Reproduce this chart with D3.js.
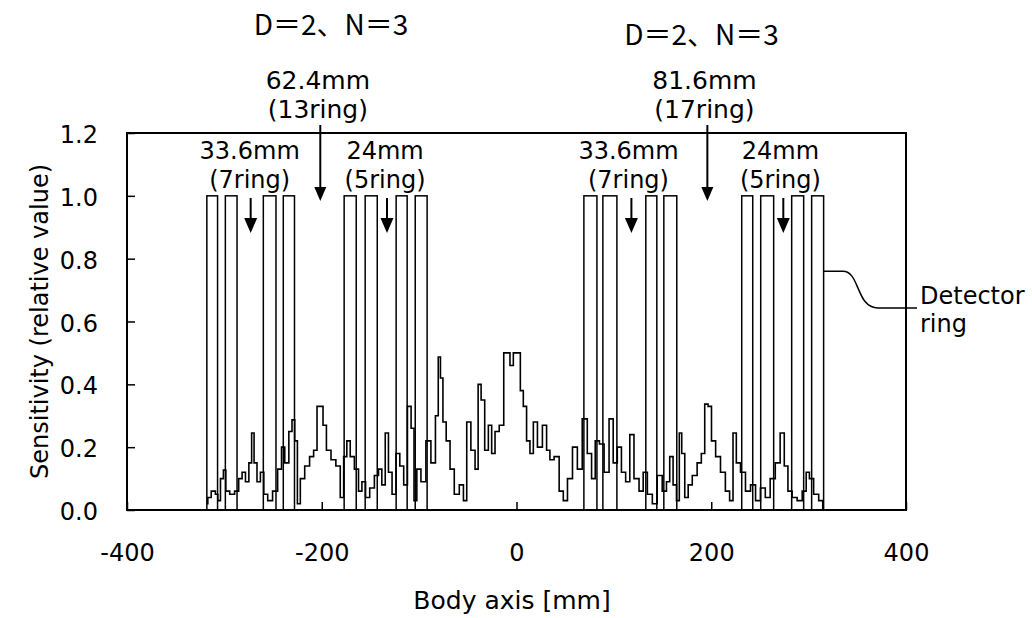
<!DOCTYPE html>
<html>
<head>
<meta charset="utf-8">
<script src="https://cdn.jsdelivr.net/npm/d3@7"></script>
<style>
body { margin: 0; background: #fff; }
svg { display: block; font-family: "DejaVu Sans", sans-serif; }
</style>
</head>
<body>
<div id="chart"></div>
<script>
// sensitivity profile (body axis position in mm, relative value)
const bodyAxisMm = [
  -318, -316, -311, -307.5, -306, -302, -300, -297, -292, -287,
  -283.6, -280, -276.7, -273, -271, -268, -265, -261, -258, -253,
  -248, -242.6, -240, -236, -231.6, -229.5, -226, -224, -220, -215,
  -210, -206.7, -203, -200, -197.4, -193, -188, -183, -179, -176,
  -172.5, -169, -164, -160.5, -157, -153, -148.5, -143.4, -140, -136.6,
  -133, -130, -125.6, -122, -117.7, -114, -110, -106.5, -104, -100.7,
  -95.6, -90.5, -85.3, -81.2, -79.5, -76.7, -74.4, -70, -66.5, -61.3,
  -56.2, -52.8, -49.4, -44.3, -40.8, -38, -34.7, -30.6, -27.2, -23.8,
  -20.3, -15.2, -11, -8.4, -5, -1.5, 2.6, 5.3, 8.7, 12,
  15.6, 19, 24, 29.2, 32.6, 36, 41.2, 46.4, 49.7, 55,
  60, 65, 70, 75.4, 78.8, 82.9, 87.4, 92.5, 97.6, 101,
  106, 109.5, 114.7, 118, 123.3, 128.4, 131.8, 137, 142, 147,
  152.3, 155.7, 159, 162.6, 166, 168.4, 171, 174.6, 178, 183,
  188, 191.6, 195, 198.5, 202, 207, 212, 217, 220.7, 224,
  227.5, 232.6, 237.7, 243, 248, 253, 258, 263, 268.5, 273,
  277, 280.5, 285.6, 290.8, 296, 299, 302.6, 307.7, 313, 316
];
const sensitivity = [
  0.02, 0.04, 0.06, 0.05, 0.03, 0.10, 0.127, 0.06, 0.05, 0.06,
  0.10, 0.12, 0.09, 0.15, 0.245, 0.15, 0.09, 0.12, 0.05, 0.03,
  0.06, 0.13, 0.20, 0.15, 0.25, 0.287, 0.22, 0.02, 0.10, 0.14,
  0.17, 0.19, 0.33, 0.33, 0.27, 0.19, 0.16, 0.14, 0.04, 0.17,
  0.22, 0.17, 0.13, 0.06, 0.09, 0.04, 0.07, 0.11, 0.13, 0.08,
  0.245, 0.12, 0.05, 0.18, 0.14, 0.08, 0.33, 0.26, 0.03, 0.13,
  0.09, 0.22, 0.15, 0.30, 0.487, 0.42, 0.28, 0.22, 0.13, 0.05,
  0.08, 0.03, 0.28, 0.19, 0.13, 0.40, 0.35, 0.19, 0.27, 0.18,
  0.25, 0.27, 0.50, 0.50, 0.46, 0.50, 0.50, 0.38, 0.33, 0.22,
  0.18, 0.28, 0.20, 0.27, 0.19, 0.16, 0.17, 0.06, 0.03, 0.10,
  0.20, 0.13, 0.29, 0.18, 0.10, 0.22, 0.21, 0.12, 0.29, 0.15,
  0.20, 0.12, 0.09, 0.24, 0.10, 0.06, 0.12, 0.05, 0.02, 0.11,
  0.06, 0.09, 0.17, 0.08, 0.03, 0.245, 0.18, 0.04, 0.08, 0.11,
  0.15, 0.18, 0.337, 0.33, 0.22, 0.17, 0.12, 0.06, 0.03, 0.245,
  0.15, 0.12, 0.06, 0.08, 0.03, 0.07, 0.04, 0.10, 0.15, 0.245,
  0.14, 0.06, 0.04, 0.03, 0.06, 0.12, 0.10, 0.05, 0.03, 0.0
];

// detector rings (left and right edge in mm), height 1.0
const ringStartMm = [-318, -299, -260, -239.5, -177, -155.4, -123.6, -104,
                     69.2, 88.7, 132.8, 151.3, 231.3, 250.8, 282.6, 303.1];
const ringEndMm   = [-307, -287, -247, -228, -164.6, -143, -112.3, -91.8,
                     82.6, 103.1, 144.1, 164.6, 242.6, 264.1, 294.9, 315.4];
const ringHeight = 1.0;

const xTicks = [-400, -200, 0, 200, 400];
const yTicks = [0, 0.2, 0.4, 0.6, 0.8, 1.0, 1.2];

// annotations
const titles = ["D＝2、N＝3", "D＝2、N＝3"];
const titleMm = [-190.5, 190];
const centerLen = ["62.4mm", "81.6mm"];
const centerRings = ["(13ring)", "(17ring)"];
const centerLabelMm = [-204, 193];
const centerArrowMm = [-201.5, 196];
const gapLen = ["33.6mm", "24mm", "33.6mm", "24mm"];
const gapRings = ["(7ring)", "(5ring)", "(7ring)", "(5ring)"];
const gapLabelMm = [-274, -135, 115, 271];
const gapArrowMm = [-273, -133, 118, 274];

const svg = d3.select("#chart").append("svg")
    .attr("width", 1032)
    .attr("height", 618);

const x = d3.scaleLinear().domain([-400, 400]).range([127, 906]);
const y = d3.scaleLinear().domain([0, 1.2]).range([510, 133]);

// x axis, ticks pointing inward
svg.append("g")
    .attr("transform", `translate(0, ${y(0)})`)
    .call(d3.axisBottom(x).tickValues(xTicks).tickSizeInner(-8).tickSizeOuter(0)
        .tickPadding(34).tickFormat(d => String(d)))
    .call(g => g.select(".domain").remove())
    .call(g => g.selectAll("line").attr("stroke-width", 1.5))
    .call(g => g.selectAll("text").attr("font-size", 24).attr("font-family", "DejaVu Sans"));

// y axis
svg.append("g")
    .attr("transform", `translate(${x(-400)}, 0)`)
    .call(d3.axisLeft(y).tickValues(yTicks).tickSizeInner(-8).tickSizeOuter(0)
        .tickPadding(29).tickFormat(d3.format(".1f")))
    .call(g => g.select(".domain").remove())
    .call(g => g.selectAll("line").attr("stroke-width", 1.5))
    .call(g => g.selectAll("text").attr("font-size", 24).attr("font-family", "DejaVu Sans").attr("dy", "0.4em"));

// plot frame
svg.append("rect")
    .attr("x", x(-400))
    .attr("y", y(1.2))
    .attr("width", x(400) - x(-400))
    .attr("height", y(0) - y(1.2))
    .attr("fill", "none")
    .attr("stroke", "#000")
    .attr("stroke-width", 2);

// detector rings
svg.append("g").selectAll("rect")
    .data(ringStartMm.map((s, i) => [s, ringEndMm[i]]))
    .join("rect")
    .attr("x", d => x(d[0]))
    .attr("y", y(ringHeight))
    .attr("width", d => x(d[1]) - x(d[0]))
    .attr("height", y(0) - y(ringHeight))
    .attr("fill", "none")
    .attr("stroke", "#000")
    .attr("stroke-width", 1.5);

// sensitivity curve
const line = d3.line()
    .x(d => x(d[0]))
    .y(d => y(d[1]))
    .curve(d3.curveStep);

svg.append("path")
    .datum(bodyAxisMm.map((m, i) => [m, sensitivity[i]]))
    .attr("d", line)
    .attr("fill", "none")
    .attr("stroke", "#000")
    .attr("stroke-width", 1.6)
    .attr("stroke-linejoin", "miter");

// axis titles
svg.append("text")
    .attr("x", 512)
    .attr("y", 609)
    .attr("text-anchor", "middle")
    .style("font-size", "25px")
    .text("Body axis [mm]");

svg.append("text")
    .attr("transform", `translate(48, ${(y(0) + y(1.2)) / 2}) rotate(-90)`)
    .attr("text-anchor", "middle")
    .style("font-size", "24px")
    .text("Sensitivity (relative value)");

// headings over each half
svg.append("g").selectAll("text")
    .data(titles)
    .join("text")
    .attr("x", (d, i) => x(titleMm[i]))
    .attr("y", (d, i) => i === 0 ? 35 : 45)
    .attr("text-anchor", "middle")
    .style("font-family", "'Noto Sans CJK JP', sans-serif")
    .style("font-size", "28px")
    .text(d => d);

const arrowHead = (cx, tip, w, h) => `M${cx - w / 2},${tip - h}L${cx + w / 2},${tip - h}L${cx},${tip}Z`;

// centre gap labels with long arrows
centerLen.forEach((t, i) => {
    svg.append("text")
        .attr("x", x(centerLabelMm[i])).attr("y", 89)
        .attr("text-anchor", "middle").style("font-size", "25px").text(t);
    svg.append("text")
        .attr("x", x(centerLabelMm[i])).attr("y", 118)
        .attr("text-anchor", "middle").style("font-size", "25px").text(centerRings[i]);
    const cx = x(centerArrowMm[i]);
    svg.append("line")
        .attr("x1", cx).attr("x2", cx).attr("y1", 125).attr("y2", 190)
        .attr("stroke", "#000").attr("stroke-width", 2);
    svg.append("path").attr("d", arrowHead(cx, 201, 12, 14)).attr("fill", "#000");
});

// ring gap labels with short arrows
gapLen.forEach((t, i) => {
    svg.append("text")
        .attr("x", x(gapLabelMm[i])).attr("y", 159)
        .attr("text-anchor", "middle").style("font-size", "24px").text(t);
    svg.append("text")
        .attr("x", x(gapLabelMm[i])).attr("y", 188)
        .attr("text-anchor", "middle").style("font-size", "24px").text(gapRings[i]);
    const cx = x(gapArrowMm[i]);
    svg.append("line")
        .attr("x1", cx).attr("x2", cx).attr("y1", 198).attr("y2", 222)
        .attr("stroke", "#000").attr("stroke-width", 2);
    svg.append("path").attr("d", arrowHead(cx, 233, 13, 15)).attr("fill", "#000");
});

// detector ring callout
const calloutY = y(0.76);
svg.append("path")
    .attr("d", `M${x(315.4)},${calloutY}L843,${calloutY}C860,${calloutY} 856,308 878,308L917,308`)
    .attr("fill", "none")
    .attr("stroke", "#000")
    .attr("stroke-width", 1.5);

svg.append("text").attr("x", 920).attr("y", 304).style("font-size", "24px").text("Detector");
svg.append("text").attr("x", 920).attr("y", 332).style("font-size", "24px").text("ring");
</script>
</body>
</html>
